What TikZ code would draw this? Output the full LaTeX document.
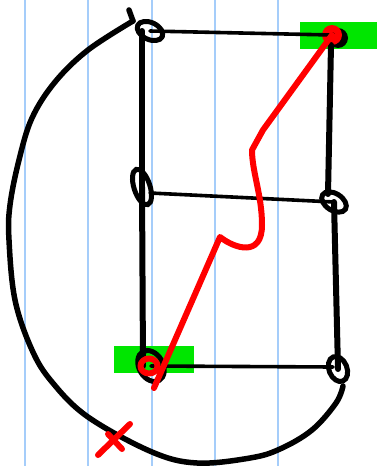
\documentclass[tikz,border=0pt]{standalone}
\usetikzlibrary{shapes.geometric,calc}
\definecolor{rulecol}{RGB}{165,205,250}
\definecolor{hl}{RGB}{0,230,0}
\begin{document}
\begin{tikzpicture}[x=1pt,y=-1pt,
  loopnode/.style={ellipse,draw=black,line width=5pt,inner sep=0pt},
  thickedge/.style={line width=6pt,line cap=round},
  thinedge/.style={line width=3.6pt,line cap=round},
  bigcurve/.style={line width=5.5pt,line cap=round,line join=round},
  redpen/.style={red,line width=6pt,line cap=round,line join=round},
  rulestyle/.style={rulecol,line width=1.5pt}]
\useasboundingbox (0,0) rectangle (377,466);
\fill[white] (0,0) rectangle (377,466);
\foreach \x in {25,88,152,215,278} \draw[rulestyle] (\x,0) -- (\x,466);
% highlights
\fill[hl] (300,22) rectangle (377,49);
\fill[hl] (114,346) rectangle (194,373);
% nodes
\node[loopnode,minimum width=27pt,minimum height=17pt,rotate=-25] (TL) at (150,31) {};
\fill[black] (338,38) circle (10);
\node[circle,fill=red,minimum size=20pt,inner sep=0pt] (TR) at (332,35) {};
\fill[black] (333,34) circle (1.8);
\node[loopnode,minimum width=37pt,minimum height=16pt,rotate=-72] (ML) at (142,187) {};
\node[loopnode,minimum width=27pt,minimum height=17pt,rotate=-32] (MR) at (334,202) {};
\node[loopnode,minimum width=33pt,minimum height=24pt,rotate=-60] (BL) at (151,366) {};
\node[loopnode,minimum width=26pt,minimum height=18pt,rotate=-68] (BR) at (338,369) {};
% edges
\draw[thinedge] (TL.center) -- (TR.center);
\draw[thinedge] ($(ML)+(8,6)$) -- (MR.center);
\draw[thinedge] (BL.center) -- ($(BR)+(-5,-2)$);
\draw[thickedge] ($(TL)+(-8,0)$) -- (ML.center);
\draw[thickedge] (ML.center) -- ($(BL)+(-8,0)$);
\draw[thickedge] ($(TR)+(-1,10)$) -- ($(MR)+(-6,-8)$);
\draw[thickedge] (MR.center) -- (BR.center);
% big curve
\draw[bigcurve] ($(TL)+(-21,-21)$) -- ($(TL)+(-17,-10)$);
\draw[bigcurve] plot[smooth,tension=0.6] coordinates {
  ($(TL)+(-17,-10)$) (88,50) (55,82) (32,118) (19,160) (10,205) (9,240)
  (15,300) (32,350) (52,382) (88,417) (152,452) (197,463) (250,458)
  (280,449) (312,430) (336,403) ($(BR)+(5,17)$)};
% red path
\draw[redpen] (149,366) ellipse (8.5 and 7.5);
\draw[redpen] ($(BL)+(3,22)$) -- (220,237)
  .. controls (234,248) and (262,258) .. (262,225)
  .. controls (262,195) and (252,172) .. (252,150)
  -- (263,130) -- (TR.center);
% red cross
\draw[redpen] (98,455) -- (130,424);
\draw[redpen] (108,434) -- (122,449);
\end{tikzpicture}
\end{document}
